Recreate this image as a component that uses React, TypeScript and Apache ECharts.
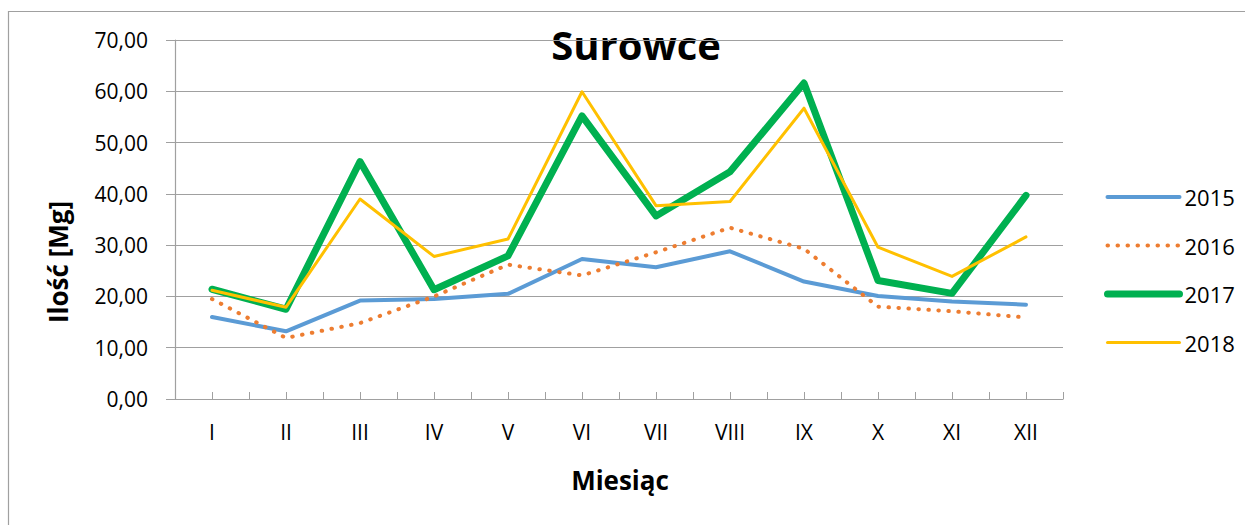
import React, { useEffect, useRef } from "react";
import * as echarts from "echarts";

const months = ["I", "II", "III", "IV", "V", "VI", "VII", "VIII", "IX", "X", "XI", "XII"];
const s2015 = [16.0, 13.2, 19.2, 19.5, 20.5, 27.3, 25.7, 28.8, 22.9, 20.1, 19.0, 18.4];
const s2016 = [19.5, 11.9, 14.8, 20.0, 26.2, 24.1, 28.6, 33.4, 29.3, 18.0, 17.1, 15.9];
const s2017 = [21.4, 17.5, 46.3, 21.3, 27.9, 55.2, 35.7, 44.3, 61.6, 23.1, 20.6, 39.7];
const s2018 = [21.2, 17.9, 39.0, 27.8, 31.2, 59.9, 37.7, 38.5, 56.7, 29.6, 23.9, 31.6];
const halfTicks = Array.from({ length: 24 }, (_, i) => String(i));

const FONT = "'Open Sans', 'Noto Sans', sans-serif";
const GRID = "#a0a0a0";

export default function App() {
  const ref = useRef<HTMLDivElement>(null);
  useEffect(() => {
    const chart = echarts.init(ref.current!, null, { renderer: "svg" });
    chart.setOption({
      animation: false,
      textStyle: { fontFamily: FONT },
      graphic: [
        {
          type: "rect",
          shape: { x: 8.5, y: 11.5, width: 1400, height: 700 },
          style: { fill: "none", stroke: GRID, lineWidth: 1.2 },
          silent: true,
        },
        {
          type: "text",
          x: 636,
          y: 44,
          style: {
            text: "Surowce",
            font: `bold 40px ${FONT}`,
            fill: "#000",
            textAlign: "center",
            textVerticalAlign: "middle",
          },
        },
        {
          type: "text",
          x: 58,
          y: 262,
          rotation: Math.PI / 2,
          style: {
            text: "Ilość [Mg]",
            font: `bold 26px ${FONT}`,
            fill: "#000",
            textAlign: "center",
            textVerticalAlign: "middle",
          },
        },
        {
          type: "text",
          x: 620,
          y: 480,
          style: {
            text: "Miesiąc",
            font: `bold 26px ${FONT}`,
            fill: "#000",
            textAlign: "center",
            textVerticalAlign: "middle",
          },
        },
      ],
      legend: {
        orient: "vertical",
        left: 1099,
        top: 181,
        itemWidth: 72,
        itemHeight: 20,
        itemGap: 26.5,
        icon: "inherit",
        itemStyle: { opacity: 0 },
        lineStyle: { width: "inherit" },
        textStyle: { fontSize: 22, color: "#000", fontFamily: FONT },
        data: ["2015", "2016", "2017", "2018"],
      },
      grid: { left: 175, right: 182, top: 40, bottom: 126 },
      xAxis: [
        {
          type: "category",
          data: months,
          boundaryGap: true,
          axisLine: { lineStyle: { color: GRID, width: 1.2 } },
          axisTick: { show: false },
          axisLabel: { fontSize: 21, color: "#000", margin: 22, fontFamily: FONT },
        },
        {
          type: "category",
          data: halfTicks,
          position: "bottom",
          boundaryGap: true,
          axisLine: { show: false },
          axisTick: { show: true, inside: true, length: 7, interval: 0, lineStyle: { color: GRID } },
          axisLabel: { show: false },
          splitLine: { show: false },
        },
      ],
      yAxis: {
        type: "value",
        min: 0,
        max: 70,
        interval: 10,
        axisLine: { show: true, lineStyle: { color: GRID, width: 1.2 } },
        axisTick: { show: true, length: 9, lineStyle: { color: GRID } },
        splitLine: { lineStyle: { color: GRID, width: 1.2 } },
        axisLabel: {
          fontSize: 21,
          color: "#000",
          margin: 27,
          fontFamily: FONT,
          formatter: (v: number) => v.toFixed(2).replace(".", ","),
        },
      },
      series: [
        {
          name: "2015",
          type: "line",
          data: s2015,
          symbol: "none",
          lineStyle: { color: "#5b9bd5", width: 4, cap: "round", join: "round" },
          itemStyle: { color: "#5b9bd5" },
          z: 2,
        },
        {
          name: "2016",
          type: "line",
          data: s2016,
          symbol: "none",
          lineStyle: { color: "#ed7d31", width: 4, type: [0.5, 9.5], cap: "round", join: "round" },
          itemStyle: { color: "#ed7d31" },
          z: 3,
        },
        {
          name: "2017",
          type: "line",
          data: s2017,
          symbol: "none",
          lineStyle: { color: "#00b050", width: 7, cap: "round", join: "round" },
          itemStyle: { color: "#00b050" },
          z: 4,
        },
        {
          name: "2018",
          type: "line",
          data: s2018,
          symbol: "none",
          lineStyle: { color: "#ffc000", width: 3, cap: "round", join: "round" },
          itemStyle: { color: "#ffc000" },
          z: 5,
        },
      ],
    });
    return () => chart.dispose();
  }, []);
  return (
    <div
      ref={ref}
      style={{ position: "fixed", left: 0, top: 0, width: 1245, height: 525, background: "#fff" }}
    />
  );
}
